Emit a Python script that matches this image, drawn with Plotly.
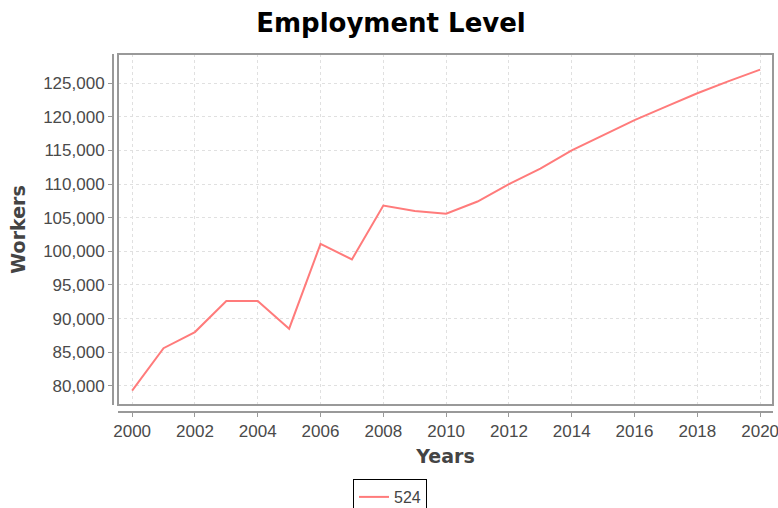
import plotly.graph_objects as go

years = list(range(2000, 2021))
workers = [79300, 85600, 88000, 92600, 92600, 88500, 101100, 98800, 106800, 106000,
           105600, 107400, 110000, 112300, 115000, 117300, 119500, 121500, 123500, 125300, 127000]
series_name = "524"
x_ticks = list(range(2000, 2021, 2))
y_ticks = list(range(80000, 126000, 5000))

W, H = 778, 508
ml, mr, mt, mb = 113, 5, 54, 96
pw = W - ml - mr
ph = H - mt - mb
xd0 = 5 / pw
yd0 = 7 / ph

tick_font = dict(family="Liberation Sans, Arial, sans-serif", size=17, color="#4a4a4a")
title_font = dict(family="DejaVu Sans, Verdana, sans-serif", size=19, color="#444444")

fig = go.Figure()
fig.add_trace(go.Scatter(
    x=years, y=workers, mode="lines", name=series_name,
    line=dict(color="#ff7b7b", width=2),
))

fig.update_layout(
    width=W, height=H,
    margin=dict(l=ml, r=mr, t=mt, b=mb, autoexpand=False),
    paper_bgcolor="white", plot_bgcolor="white",
    title=dict(text="<b>Employment Level</b>", x=391 / W, xref="container", xanchor="center",
               y=1 - 23 / H, yanchor="middle", automargin=False,
               font=dict(family="DejaVu Sans, Verdana, sans-serif", size=26, color="black")),
    showlegend=True,
    legend=dict(orientation="h", x=(390 - ml) / pw, xanchor="center", y=-(479 - (H - mb)) / ph,
                yanchor="top", bordercolor="black", borderwidth=1,
                font=dict(family="Liberation Sans, Arial, sans-serif", size=16, color="#444444"),
                itemwidth=30, tracegroupgap=0),
    xaxis=dict(
        domain=[xd0, 1], anchor="free", position=0, automargin=False,
        range=[1999.55, 2020.41], tickmode="array", tickvals=x_ticks,
        ticktext=[str(v) for v in x_ticks], ticklabeloverflow="allow",
        showline=True, linecolor="#999999", linewidth=2,
        ticks="outside", ticklen=4, tickcolor="#999999", tickwidth=1,
        showgrid=True, gridcolor="#e0e0e0", griddash="dot", gridwidth=1,
        zeroline=False, tickfont=tick_font,
        title=dict(text="<b>Years</b>", font=title_font, standoff=8),
    ),
    yaxis=dict(
        domain=[yd0, 1], anchor="free", position=0, automargin=False,
        range=[77160, 129330], tickmode="array", tickvals=y_ticks,
        ticktext=[f"{v:,}" for v in y_ticks], ticklabeloverflow="allow",
        showline=True, linecolor="#999999", linewidth=2,
        ticks="outside", ticklen=4, tickcolor="#999999", tickwidth=1,
        showgrid=True, gridcolor="#e0e0e0", griddash="dot", gridwidth=1,
        zeroline=False, tickfont=tick_font,
        title=dict(text="<b>Workers</b>", font=title_font, standoff=11),
    ),
)

fig.add_shape(type="rect", xref="paper", yref="paper", x0=xd0, x1=1, y0=yd0, y1=1,
              line=dict(color="#999999", width=2), fillcolor="rgba(0,0,0,0)", layer="above")

fig.write_html("out.html", config={"displayModeBar": False},
               post_script="document.body.style.margin='0';document.body.style.overflow='hidden';")
